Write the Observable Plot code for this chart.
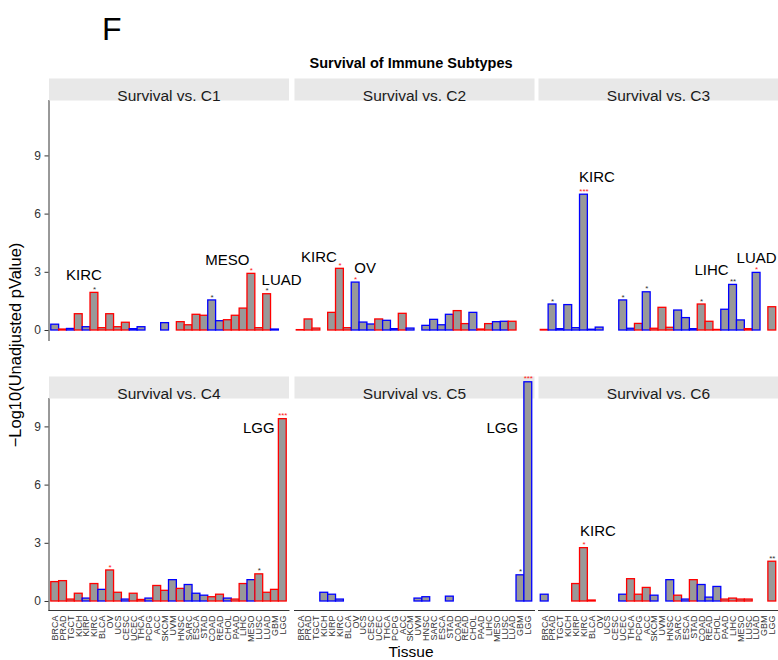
<!DOCTYPE html>
<html>
<head>
<meta charset="utf-8">
<script src="https://cdn.jsdelivr.net/npm/d3@7"></script>
<script src="https://cdn.jsdelivr.net/npm/@observablehq/plot@0.6"></script>
<style>
  html, body { margin: 0; padding: 0; background: #fff; }
  #fig { position: relative; width: 778px; height: 660px; background: #fff; overflow: hidden;
         font-family: "Liberation Sans", Arial, Helvetica, sans-serif; }
  #fig svg.panel { position: absolute; }
  #fig [aria-label^="x-axis"] text { font-size: 9px; }
  #fig [aria-label^="y-axis"] text { font-size: 12px; }
  #overlay { position: absolute; left: 0; top: 0; pointer-events: none; }
</style>
</head>
<body>
<div id="fig">
  <svg id="overlay" width="778" height="660" font-family='"Liberation Sans", Arial, Helvetica, sans-serif'>
    <text x="102" y="40" font-size="32" fill="#000">F</text>
    <text x="411" y="68" font-size="14.5" font-weight="bold" text-anchor="middle" fill="#000">Survival of Immune Subtypes</text>
    <text transform="translate(21,345) rotate(-90)" font-size="16.5" text-anchor="middle" fill="#000">−Log10(Unadjusted pValue)</text>
    <text x="411" y="657" font-size="15.5" text-anchor="middle" fill="#000">Tissue</text>
  </svg>
</div>
<script>
const FONT = '"Liberation Sans", Arial, Helvetica, sans-serif';

// Tissue order along the x axis
const tissues = ["BRCA","PRAD","TGCT","KICH","KIRP","KIRC","BLCA","OV","UCS","CESC",
  "UCEC","THCA","PCPG","ACC","SKCM","UVM","HNSC","SARC","ESCA","STAD",
  "COAD","READ","CHOL","PAAD","LIHC","MESO","LUSC","LUAD","GBM","LGG"];

const subtypes = ["C1","C2","C3","C4","C5","C6"];

// -log10(p) per tissue for each immune subtype (null = not tested)
const logpC1 = [0.30,0.05,0.08,0.84,0.17,1.94,0.12,0.84,0.17,0.40,
  0.07,0.17,null,null,0.38,null,0.43,0.27,0.81,0.76,
  1.55,0.48,0.53,0.76,1.13,2.92,0.12,1.87,0.05,null];
const logpC2 = [0.02,0.57,0.10,null,0.91,3.18,0.12,2.47,0.41,0.31,
  0.57,0.50,0.07,0.86,0.10,null,0.24,0.55,0.27,0.81,
  1.00,0.33,0.91,0.05,0.33,0.43,0.45,0.45,null,null];
const logpC3 = [0.03,1.34,0.07,1.31,0.12,7.00,0.04,0.15,null,null,
  1.55,0.09,0.34,1.97,0.09,1.17,0.14,1.03,0.64,0.07,
  1.34,0.45,0.03,1.07,2.35,0.52,0.07,2.97,null,1.20];
const logpC4 = [1.00,1.05,0.10,0.40,0.15,0.90,0.60,1.60,0.45,0.10,
  0.40,0.08,0.15,0.80,0.55,1.10,0.65,0.85,0.40,0.30,
  0.22,0.35,0.15,0.10,0.90,1.10,1.40,0.45,0.60,9.40];
const logpC5 = [null,null,null,0.45,0.35,0.10,null,null,null,null,
  null,null,null,null,null,0.15,0.22,null,null,0.25,
  null,null,null,null,null,null,null,null,1.35,11.30];
const logpC6 = [0.35,null,null,null,0.90,2.75,0.05,null,null,null,
  0.35,1.15,0.35,0.70,0.30,null,1.10,0.30,0.10,1.10,
  0.85,0.20,0.75,0.10,0.15,0.10,0.10,null,null,2.05];

// Hazard direction per tissue: R = higher risk, B = protective
const dirC1 = "BRBRBRRRRRBB--B-RRRRBBRRRRRRB-".split("");
const dirC2 = "RRR-RRRBBBRBBRB-BBBBRRBRRBBR--".split("");
const dirC3 = "RBBBBBBB--BBRBRRRBBBRRRBBBRB-R".split("");
const dirC4 = "RRRRBRBRRBRRBRRBRBBBRRBRRBRRRR".split("");
const dirC5 = "BBBBBBBBBBBBBBBBBBBBBBBBBBBBBB".split("");
const dirC6 = "B---RRR---BRRRB-BRBRBBBRRRR--R".split("");

// Significance stars: [tissue, stars, colour group]
const sigC1 = [["KIRC","*","k"],["COAD","*","k"],["MESO","*","r"],["LUAD","*","k"]];
const sigC2 = [["KIRC","*","r"],["OV","*","r"]];
const sigC3 = [["PRAD","*","k"],["KIRC","***","r"],["UCEC","*","k"],["ACC","*","k"],
  ["COAD","*","k"],["LIHC","**","k"],["LUAD","*","r"]];
const sigC4 = [["OV","*","r"],["LUSC","*","k"],["LGG","***","r"]];
const sigC5 = [["GBM","*","k"],["LGG","***","r"]];
const sigC6 = [["KIRC","*","r"],["LGG","**","k"]];

// Named tissues per subtype
const calloutC1 = ["KIRC","MESO","LUAD"];
const calloutC2 = ["KIRC","OV"];
const calloutC3 = ["KIRC","LIHC","LUAD"];
const calloutC4 = ["LGG"];
const calloutC5 = ["LGG"];
const calloutC6 = ["KIRC"];

const logp = [logpC1, logpC2, logpC3, logpC4, logpC5, logpC6];
const dirs = [dirC1, dirC2, dirC3, dirC4, dirC5, dirC6];
const sigs = [sigC1, sigC2, sigC3, sigC4, sigC5, sigC6];
const callouts = [calloutC1, calloutC2, calloutC3, calloutC4, calloutC5, calloutC6];

// label placement (pixel nudges from the bar top)
const nudge = {
  C1: {KIRC: [-10.5, -17.5], MESO: [-24, -13.5], LUAD: [14.5, -14.5]},
  C2: {KIRC: [-21, -11.5], OV: [9.5, -14.5]},
  C3: {KIRC: [13, -18], LIHC: [-21.5, -14.5], LUAD: [0, -15]},
  C4: {LGG: [-24, 9]},
  C5: {LGG: [-26, 46]},
  C6: {KIRC: [14, -16.5]}
};

const colour = {R: "#ff0000", B: "#0000ff"};
const starColour = {r: "#ff2020", k: "#333333"};

// layout of the 2 x 3 grid
const colLeft = [0, 293.5, 538];
const rowSpec = [
  {top: 78, panelH: 240, bottomM: 0, domain: [-0.515, 11.856]},
  {top: 376, panelH: 212, bottomM: 40, domain: [-0.464, 10.464]}
];
const STRIP = 22;

function panel(k) {
  const sub = subtypes[k];
  const row = Math.floor(k / 3), col = k % 3;
  const spec = rowSpec[row];
  const first = col === 0, bottom = row === 1;
  const data = tissues.map((t, j) => ({tissue: t, value: logp[k][j], dir: dirs[k][j]}))
    .filter(d => d.value != null);
  const byTissue = new Map(data.map(d => [d.tissue, d]));
  const stars = sigs[k].map(([t, s, c]) => ({tissue: t, value: byTissue.get(t).value, stars: s, c}));

  const labelMarks = callouts[k].map(t => {
    const [dx, dy] = nudge[sub][t];
    return Plot.text([byTissue.get(t)], {
      x: "tissue", y: "value", text: "tissue", dx, dy,
      fontSize: 15, fill: "#000", fontFamily: FONT
    });
  });

  const svg = Plot.plot({
    width: (first ? 48.5 : 0) + 240,
    height: STRIP + spec.panelH + spec.bottomM,
    marginLeft: first ? 48.5 : 0,
    marginRight: 0,
    marginTop: STRIP,
    marginBottom: spec.bottomM,
    style: {background: "transparent", overflow: "visible", fontFamily: FONT,
            fontSize: "11.5px", color: "#333"},
    x: {domain: tissues, paddingInner: 0, paddingOuter: 0.29, round: false,
        axis: bottom ? "bottom" : null, tickRotate: -90, tickSize: 0,
        tickPadding: 5, label: null, line: true},
    y: {domain: spec.domain, axis: first ? "left" : null, ticks: [0, 3, 6, 9],
        tickSize: 4, tickPadding: 4, label: null, line: true},
    marks: [
      Plot.frame({fill: "#e8e8e8", stroke: "none", insetTop: -STRIP, insetBottom: spec.panelH}),
      Plot.text([`Survival vs. ${sub}`], {frameAnchor: "top", dy: -STRIP / 2, text: d => d,
        fontSize: 15.5, fill: "#1a1a1a", fontFamily: FONT}),
      Plot.barY(data, {x: "tissue", y: "value", fill: "#999999",
        stroke: d => colour[d.dir], strokeWidth: 1.3}),
      Plot.text(stars, {x: "tissue", y: "value", text: "stars", dy: -3.5,
        fontSize: 8, fill: d => starColour[d.c], fontFamily: FONT}),
      ...labelMarks
    ]
  });
  svg.classList.add("panel");
  svg.style.left = colLeft[col] + "px";
  svg.style.top = spec.top + "px";
  return svg;
}

const fig = document.getElementById("fig");
const overlay = document.getElementById("overlay");
subtypes.forEach((s, k) => fig.insertBefore(panel(k), overlay));
</script>
</body>
</html>
